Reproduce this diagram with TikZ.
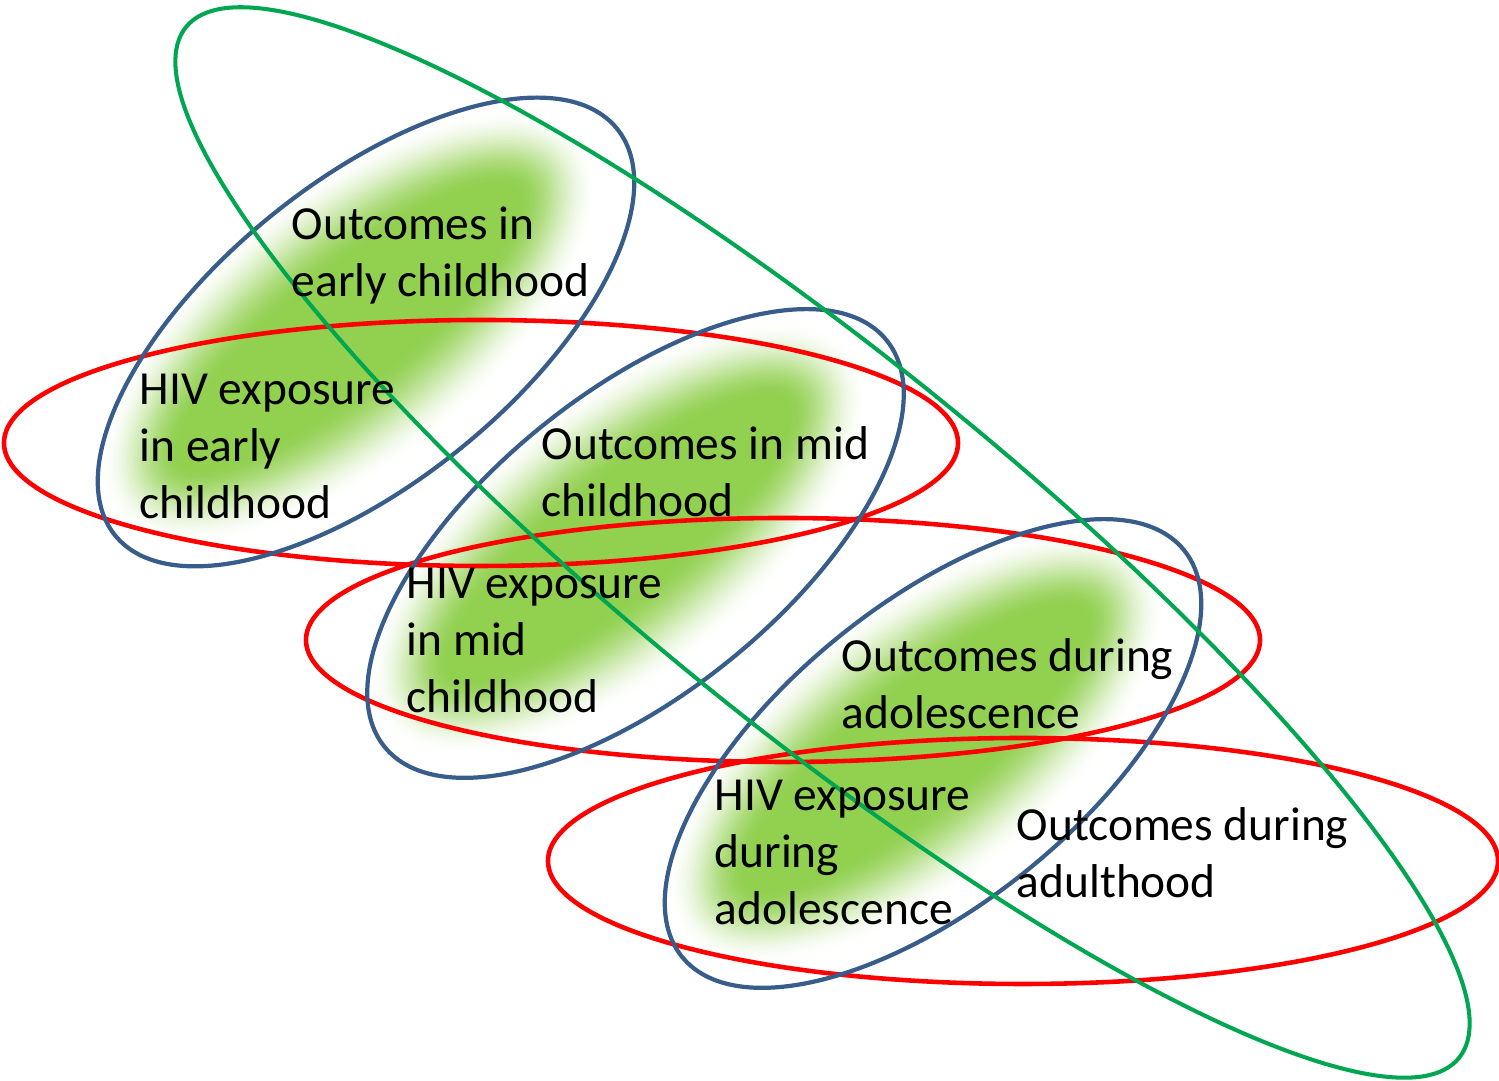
\documentclass[tikz,border=0pt]{standalone}
\usepackage{fontspec}
\setmainfont{Carlito}
\usepackage{tikz}
\usepackage{xcolor}
\definecolor{leafgreen}{RGB}{146,208,80}
\definecolor{ageblue}{RGB}{56,93,138}
\definecolor{spangreen}{RGB}{0,166,80}
\newcommand{\labelfont}{\fontsize{13.5}{16.2}\selectfont}
\newcommand{\glow}[1]{%
  \begin{scope}[shift={#1}, rotate=39]
    \clip (0,0) ellipse (3.2 and 1.47);
    \foreach \k in {30,...,0}{
      \pgfmathsetmacro{\gr}{\k/30}
      \pgfmathsetmacro{\gp}{100*(1-3*\gr*\gr+2*\gr*\gr*\gr)}
      \fill[leafgreen!\gp!white] (-0.1,0.15) ellipse ({2.15+0.85*\gr} and {0.55+0.85*\gr});
    }
  \end{scope}}
\tikzstyle{window} = [draw=red, line width=1.3pt]
\tikzstyle{stage} = [draw=ageblue, line width=1.2pt]
\tikzstyle{lifespan} = [draw=spangreen, line width=1.15pt]
\tikzstyle{lbl} = [font=\labelfont, align=left, anchor=north west, inner sep=0pt]

\begin{document}
\begin{tikzpicture}
			\useasboundingbox (0,0) rectangle (14.99,10.81);
			% soft green cores
			\glow{(3.66,7.49)}
			\glow{(6.355,5.375)}
			\glow{(9.33,3.275)}
			% exposure windows
			\draw[window] (4.81,6.38) ellipse (4.77 and 1.23);
			\draw[window] (7.83,4.41) ellipse (4.77 and 1.22);
			\draw[window] (10.23,2.20) ellipse (4.75 and 1.23);
			% life stages
			\draw[stage] (3.66,7.49) ellipse [x radius=3.23, y radius=1.50, rotate=39];
			\draw[stage] (6.355,5.375) ellipse [x radius=3.23, y radius=1.50, rotate=39];
			\draw[stage] (9.33,3.275) ellipse [x radius=3.23, y radius=1.50, rotate=39];
			\draw[lifespan] (8.225,5.385) ellipse [x radius=8.19, y radius=1.85, rotate=-39];
			% texts
			\node[lbl] (oearly) at (2.91,8.819) {\strut Outcomes in\\early childhood};
			\node[lbl] (hearly) at (1.39,7.169) {\strut HIV exposure\\in early\\childhood};
			\node[lbl] (omid) at (5.41,6.619) {\strut Outcomes in mid\\childhood};
			\node[lbl] (hmid) at (4.06,5.229) {\strut HIV exposure\\in mid\\childhood};
			\node[lbl] (oadol) at (8.41,4.499) {\strut Outcomes during\\adolescence};
			\node[lbl] (hadol) at (7.14,3.109) {\strut HIV exposure\\during\\adolescence};
			\node[lbl] (oadult) at (10.16,2.809) {\strut Outcomes during\\adulthood};
		\end{tikzpicture}
\end{document}
